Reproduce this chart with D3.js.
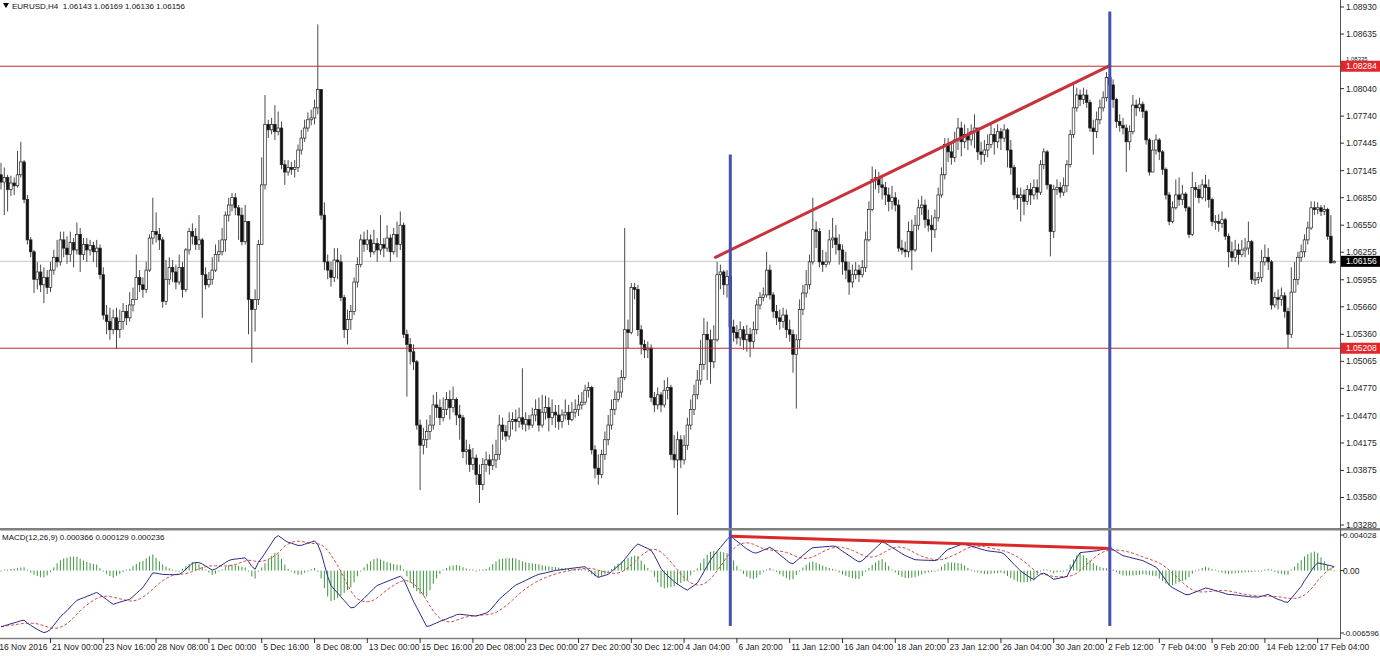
<!DOCTYPE html>
<html><head><meta charset="utf-8">
<script src="https://cdn.jsdelivr.net/npm/d3@7"></script>
<style>html,body{margin:0;padding:0;background:#fff;overflow:hidden}svg{display:block;font-family:"Liberation Sans",Arial,sans-serif}</style>
</head><body><svg id="c" width="1380" height="656"></svg>
<script>
const firstOpen = 1.0710;
const closes = [
1.0702,1.0707,1.0694,1.0701,1.0698,1.0710,1.0724,1.0683,1.0639,1.0626,
1.0596,1.0604,1.0590,1.0598,1.0587,1.0606,1.0620,1.0615,1.0639,1.0630,
1.0623,1.0636,1.0628,1.0645,1.0623,1.0634,1.0628,1.0633,1.0626,1.0630,
1.0601,1.0557,1.0550,1.0541,1.0554,1.0541,1.0550,1.0561,1.0554,1.0568,
1.0574,1.0598,1.0590,1.0585,1.0606,1.0641,1.0648,1.0645,1.0639,1.0572,
1.0596,1.0609,1.0604,1.0593,1.0609,1.0585,1.0628,1.0648,1.0643,1.0634,
1.0639,1.0601,1.0590,1.0596,1.0606,1.0623,1.0626,1.0639,1.0666,1.0677,
1.0685,1.0674,1.0666,1.0637,1.0659,1.0574,1.0563,1.0574,1.0634,1.0699,
1.0765,1.0759,1.0765,1.0757,1.0761,1.0721,1.0713,1.0718,1.0716,1.0718,
1.0737,1.0750,1.0761,1.0770,1.0772,1.0783,1.0803,1.0666,1.0615,1.0606,
1.0598,1.0617,1.0615,1.0576,1.0541,1.0552,1.0561,1.0593,1.0612,1.0639,
1.0634,1.0639,1.0626,1.0635,1.0628,1.0634,1.0630,1.0641,1.0626,1.0645,
1.0634,1.0655,1.0536,1.0525,1.0517,1.0506,1.0437,1.0415,1.0421,1.0430,
1.0437,1.0459,1.0456,1.0445,1.0454,1.0465,1.0456,1.0465,1.0448,1.0445,
1.0408,1.0410,1.0394,1.0401,1.0383,1.0372,1.0394,1.0399,1.0393,1.0399,
1.0405,1.0437,1.0430,1.0425,1.0441,1.0443,1.0441,1.0445,1.0438,1.0443,
1.0437,1.0448,1.0454,1.0437,1.0451,1.0456,1.0445,1.0451,1.0448,1.0441,
1.0448,1.0451,1.0443,1.0451,1.0454,1.0459,1.0462,1.0475,1.0478,1.0410,
1.0390,1.0383,1.0405,1.0421,1.0437,1.0454,1.0465,1.0473,1.0489,1.0541,
1.0538,1.0587,1.0585,1.0541,1.0525,1.0519,1.0521,1.0467,1.0459,1.0470,
1.0459,1.0475,1.0478,1.0405,1.0399,1.0421,1.0399,1.0415,1.0437,1.0454,
1.0470,1.0486,1.0503,1.0536,1.0530,1.0506,1.0530,1.0601,1.0604,1.0590,
1.0599,1.0544,1.0538,1.0532,1.0541,1.0530,1.0536,1.0528,1.0541,1.0568,
1.0576,1.0579,1.0606,1.0579,1.0561,1.0554,1.0550,1.0557,1.0541,1.0536,
1.0514,1.0530,1.0563,1.0581,1.0590,1.0615,1.0650,1.0648,1.0615,1.0612,
1.0615,1.0639,1.0641,1.0634,1.0628,1.0615,1.0606,1.0593,1.0601,1.0606,
1.0601,1.0609,1.0639,1.0672,1.0705,1.0707,1.0699,1.0696,1.0688,1.0681,
1.0685,1.0677,1.0630,1.0628,1.0626,1.0648,1.0628,1.0655,1.0674,1.0677,
1.0661,1.0655,1.0650,1.0663,1.0688,1.0710,1.0743,1.0735,1.0729,1.0748,
1.0761,1.0746,1.0754,1.0748,1.0757,1.0761,1.0735,1.0732,1.0737,1.0743,
1.0754,1.0746,1.0757,1.0750,1.0759,1.0737,1.0718,1.0688,1.0685,1.0688,
1.0681,1.0694,1.0688,1.0696,1.0691,1.0721,1.0735,1.0699,1.0648,1.0694,
1.0696,1.0691,1.0698,1.0721,1.0754,1.0783,1.0797,1.0792,1.0797,1.0789,
1.0761,1.0757,1.0770,1.0783,1.0794,1.0816,1.0808,1.0792,1.0768,1.0764,
1.0761,1.0746,1.0757,1.0786,1.0783,1.0787,1.0779,1.0748,1.0713,1.0737,
1.0748,1.0735,1.0716,1.0688,1.0659,1.0674,1.0688,1.0683,1.0689,1.0674,
1.0645,1.0696,1.0694,1.0685,1.0699,1.0696,1.0683,1.0659,1.0659,1.0657,
1.0661,1.0643,1.0626,1.0620,1.0628,1.0623,1.0628,1.0630,1.0637,1.0596,
1.0596,1.0598,1.0615,1.0620,1.0615,1.0568,1.0576,1.0574,1.0578,1.0561,
1.0536,1.0582,1.0596,1.0620,1.0626,1.0639,1.0652,1.0674,1.0672,1.0674,
1.0670,1.0672,1.0643,1.0614,1.06156];
const highs = [
1.0723,1.0718,1.0710,1.0709,1.0707,1.0736,1.0746,1.0726,1.0688,1.0642,
1.0628,1.0615,1.0612,1.0609,1.0606,1.0615,1.0628,1.0639,1.0648,1.0648,
1.0643,1.0648,1.0641,1.0658,1.0652,1.0641,1.0641,1.0639,1.0637,1.0639,
1.0634,1.0609,1.0568,1.0565,1.0563,1.0565,1.0563,1.0570,1.0568,1.0582,
1.0587,1.0623,1.0606,1.0598,1.0615,1.0645,1.0685,1.0669,1.0652,1.0642,
1.0617,1.0620,1.0617,1.0612,1.0623,1.0615,1.0630,1.0652,1.0657,1.0652,
1.0666,1.0641,1.0609,1.0604,1.0620,1.0634,1.0639,1.0652,1.0670,1.0685,
1.0690,1.0690,1.0677,1.0674,1.0677,1.0659,1.0574,1.0585,1.0639,1.0729,
1.0797,1.0770,1.0772,1.0786,1.0779,1.0768,1.0726,1.0726,1.0724,1.0726,
1.0743,1.0759,1.0770,1.0778,1.0781,1.0792,1.0874,1.0803,1.0680,1.0623,
1.0615,1.0630,1.0630,1.0623,1.0579,1.0563,1.0568,1.0598,1.0620,1.0645,
1.0648,1.0650,1.0645,1.0650,1.0641,1.0666,1.0641,1.0655,1.0645,1.0652,
1.0659,1.0670,1.0658,1.0541,1.0532,1.0525,1.0508,1.0443,1.0434,1.0443,
1.0448,1.0470,1.0473,1.0465,1.0467,1.0473,1.0475,1.0479,1.0467,1.0459,
1.0448,1.0421,1.0416,1.0412,1.0405,1.0394,1.0401,1.0408,1.0405,1.0416,
1.0421,1.0448,1.0445,1.0437,1.0451,1.0451,1.0454,1.0456,1.0499,1.0451,
1.0448,1.0456,1.0465,1.0467,1.0470,1.0469,1.0467,1.0465,1.0459,1.0459,
1.0454,1.0465,1.0459,1.0462,1.0465,1.0470,1.0473,1.0481,1.0484,1.0480,
1.0415,1.0405,1.0410,1.0430,1.0448,1.0465,1.0475,1.0489,1.0497,1.0652,
1.0552,1.0592,1.0592,1.0590,1.0546,1.0530,1.0528,1.0525,1.0473,1.0478,
1.0473,1.0486,1.0489,1.0481,1.0426,1.0430,1.0426,1.0426,1.0445,1.0465,
1.0481,1.0497,1.0530,1.0554,1.0550,1.0541,1.0546,1.0615,1.0612,1.0606,
1.0606,1.0623,1.0552,1.0546,1.0550,1.0545,1.0546,1.0543,1.0550,1.0574,
1.0582,1.0587,1.0626,1.0612,1.0582,1.0568,1.0563,1.0565,1.0563,1.0552,
1.0541,1.0536,1.0574,1.0590,1.0606,1.0623,1.0685,1.0659,1.0652,1.0628,
1.0626,1.0650,1.0663,1.0655,1.0645,1.0634,1.0626,1.0615,1.0612,1.0615,
1.0612,1.0617,1.0648,1.0681,1.0719,1.0716,1.0713,1.0707,1.0702,1.0696,
1.0698,1.0691,1.0683,1.0639,1.0637,1.0659,1.0661,1.0666,1.0683,1.0687,
1.0683,1.0672,1.0666,1.0672,1.0696,1.0718,1.0750,1.0750,1.0745,1.0757,
1.0772,1.0768,1.0765,1.0761,1.0765,1.0776,1.0761,1.0746,1.0748,1.0754,
1.0765,1.0761,1.0765,1.0761,1.0765,1.0761,1.0748,1.0721,1.0696,1.0696,
1.0694,1.0699,1.0701,1.0705,1.0705,1.0726,1.0739,1.0737,1.0699,1.0699,
1.0705,1.0702,1.0707,1.0726,1.0759,1.0810,1.0805,1.0803,1.0805,1.0803,
1.0792,1.0770,1.0779,1.0792,1.0801,1.0822,1.0828,1.0814,1.0794,1.0776,
1.0772,1.0765,1.0764,1.0797,1.0792,1.0794,1.0790,1.0781,1.0750,1.0748,
1.0754,1.0750,1.0737,1.0718,1.0691,1.0681,1.0705,1.0707,1.0699,1.0691,
1.0676,1.0713,1.0702,1.0699,1.0705,1.0710,1.0705,1.0685,1.0666,1.0667,
1.0670,1.0663,1.0646,1.0637,1.0639,1.0635,1.0639,1.0641,1.0659,1.0639,
1.0604,1.0604,1.0628,1.0634,1.0630,1.0617,1.0582,1.0585,1.0587,1.0582,
1.0565,1.0609,1.0615,1.0626,1.0634,1.0645,1.0659,1.0681,1.0681,1.0680,
1.0677,1.0677,1.0674,1.0666,1.06169];
const lows = [
1.0694,1.0666,1.0670,1.0687,1.0688,1.0696,1.0707,1.0679,1.0634,1.0620,
1.0581,1.0585,1.0582,1.0570,1.0580,1.0582,1.0601,1.0609,1.0611,1.0620,
1.0613,1.0615,1.0609,1.0623,1.0604,1.0617,1.0615,1.0622,1.0615,1.0609,
1.0596,1.0552,1.0536,1.0530,1.0536,1.0520,1.0532,1.0541,1.0546,1.0550,
1.0561,1.0574,1.0582,1.0576,1.0581,1.0604,1.0634,1.0636,1.0628,1.0565,
1.0568,1.0590,1.0593,1.0585,1.0590,1.0576,1.0582,1.0623,1.0634,1.0628,
1.0628,1.0554,1.0585,1.0587,1.0590,1.0604,1.0615,1.0622,1.0626,1.0659,
1.0670,1.0666,1.0639,1.0633,1.0634,1.0536,1.0505,1.0539,1.0568,1.0634,
1.0694,1.0750,1.0754,1.0748,1.0753,1.0716,1.0699,1.0709,1.0710,1.0707,
1.0713,1.0732,1.0746,1.0757,1.0764,1.0765,1.0776,1.0661,1.0606,1.0596,
1.0588,1.0593,1.0596,1.0572,1.0532,1.0525,1.0541,1.0557,1.0587,1.0609,
1.0626,1.0628,1.0620,1.0623,1.0615,1.0623,1.0620,1.0626,1.0615,1.0623,
1.0620,1.0628,1.0532,1.0468,1.0503,1.0497,1.0432,1.0366,1.0405,1.0412,
1.0421,1.0432,1.0445,1.0437,1.0441,1.0448,1.0443,1.0451,1.0437,1.0421,
1.0401,1.0394,1.0386,1.0388,1.0372,1.0352,1.0366,1.0386,1.0383,1.0388,
1.0390,1.0399,1.0421,1.0419,1.0421,1.0432,1.0430,1.0434,1.0432,1.0430,
1.0432,1.0434,1.0441,1.0430,1.0434,1.0443,1.0430,1.0437,1.0434,1.0432,
1.0434,1.0443,1.0437,1.0441,1.0445,1.0447,1.0454,1.0459,1.0467,1.0405,
1.0379,1.0372,1.0379,1.0399,1.0415,1.0432,1.0448,1.0462,1.0467,1.0486,
1.0521,1.0536,1.0574,1.0534,1.0514,1.0510,1.0510,1.0462,1.0451,1.0454,
1.0451,1.0456,1.0465,1.0399,1.0390,1.0339,1.0390,1.0394,1.0410,1.0432,
1.0448,1.0465,1.0481,1.0497,1.0486,1.0482,1.0499,1.0528,1.0585,1.0579,
1.0576,1.0541,1.0528,1.0525,1.0523,1.0519,1.0517,1.0511,1.0521,1.0536,
1.0563,1.0572,1.0576,1.0574,1.0554,1.0546,1.0541,1.0543,1.0532,1.0528,
1.0494,1.0455,1.0521,1.0557,1.0576,1.0585,1.0612,1.0630,1.0609,1.0604,
1.0609,1.0612,1.0630,1.0623,1.0612,1.0601,1.0596,1.0579,1.0587,1.0596,
1.0593,1.0598,1.0604,1.0637,1.0670,1.0694,1.0690,1.0683,1.0677,1.0670,
1.0672,1.0670,1.0626,1.0623,1.0620,1.0620,1.0606,1.0626,1.0650,1.0666,
1.0652,1.0648,1.0626,1.0641,1.0659,1.0685,1.0705,1.0724,1.0721,1.0724,
1.0737,1.0730,1.0739,1.0737,1.0742,1.0739,1.0726,1.0721,1.0724,1.0729,
1.0739,1.0732,1.0739,1.0737,1.0746,1.0718,1.0710,1.0683,1.0672,1.0659,
1.0666,1.0677,1.0677,1.0683,1.0683,1.0688,1.0716,1.0694,1.0621,1.0641,
1.0688,1.0685,1.0687,1.0691,1.0718,1.0750,1.0779,1.0785,1.0787,1.0783,
1.0757,1.0732,1.0750,1.0765,1.0779,1.0790,1.0792,1.0783,1.0761,1.0757,
1.0754,1.0713,1.0737,1.0754,1.0774,1.0779,1.0772,1.0743,1.0709,1.0713,
1.0732,1.0726,1.0710,1.0683,1.0655,1.0657,1.0672,1.0676,1.0677,1.0670,
1.0641,1.0643,1.0685,1.0679,1.0683,1.0681,1.0674,1.0654,1.0650,1.0648,
1.0652,1.0639,1.0609,1.0615,1.0615,1.0612,1.0620,1.0620,1.0623,1.0591,
1.0590,1.0591,1.0593,1.0611,1.0606,1.0563,1.0565,1.0563,1.0567,1.0554,
1.0521,1.0532,1.0582,1.0590,1.0615,1.0620,1.0634,1.0650,1.0666,1.0667,
1.0665,1.0666,1.0639,1.0613,1.06136];
const macdMain = [
-0.00558,-0.00548,-0.00538,-0.00528,-0.00519,-0.00509,-0.00498,-0.00492,-0.00522,-0.00543,
-0.00565,-0.00584,-0.00602,-0.00616,-0.00607,-0.00584,-0.00542,-0.00500,-0.00460,-0.00427,
-0.00398,-0.00361,-0.00329,-0.00296,-0.00282,-0.00270,-0.00257,-0.00244,-0.00230,-0.00217,
-0.00239,-0.00263,-0.00287,-0.00312,-0.00335,-0.00324,-0.00314,-0.00304,-0.00294,-0.00286,
-0.00258,-0.00228,-0.00198,-0.00168,-0.00120,-0.00071,-0.00023,-0.00026,-0.00032,-0.00038,
-0.00039,-0.00040,-0.00041,-0.00040,-0.00038,-0.00017,0.00014,0.00043,0.00073,0.00079,
0.00079,0.00065,0.00045,0.00025,0.00005,0.00016,0.00036,0.00057,0.00079,0.00099,
0.00110,0.00114,0.00118,0.00122,0.00126,0.00092,0.00041,0.00013,0.00083,0.00124,
0.00173,0.00223,0.00273,0.00323,0.00347,0.00324,0.00300,0.00281,0.00272,0.00260,
0.00250,0.00250,0.00261,0.00272,0.00282,0.00295,0.00256,0.00177,0.00059,-0.00059,
-0.00148,-0.00187,-0.00223,-0.00261,-0.00297,-0.00335,-0.00370,-0.00366,-0.00337,-0.00306,
-0.00276,-0.00243,-0.00211,-0.00178,-0.00148,-0.00134,-0.00121,-0.00108,-0.00094,-0.00082,
-0.00069,-0.00056,-0.00085,-0.00158,-0.00232,-0.00305,-0.00367,-0.00430,-0.00493,-0.00555,
-0.00548,-0.00533,-0.00520,-0.00505,-0.00492,-0.00480,-0.00466,-0.00456,-0.00438,-0.00434,
-0.00437,-0.00441,-0.00445,-0.00449,-0.00452,-0.00442,-0.00432,-0.00422,-0.00402,-0.00363,
-0.00324,-0.00284,-0.00256,-0.00227,-0.00199,-0.00169,-0.00144,-0.00128,-0.00113,-0.00097,
-0.00082,-0.00065,-0.00050,-0.00037,-0.00030,-0.00023,-0.00015,-0.00007,0.00001,0.00005,
0.00009,0.00014,0.00018,0.00023,0.00027,0.00031,0.00035,0.00038,0.00011,-0.00017,
-0.00044,-0.00068,-0.00058,-0.00048,-0.00037,-0.00010,0.00019,0.00046,0.00074,0.00112,
0.00154,0.00195,0.00236,0.00264,0.00249,0.00234,0.00219,0.00201,0.00150,0.00085,
0.00020,-0.00021,-0.00050,-0.00080,-0.00110,-0.00135,-0.00156,-0.00178,-0.00194,-0.00170,
-0.00148,-0.00123,-0.00069,-0.00011,0.00047,0.00105,0.00150,0.00189,0.00229,0.00269,
0.00308,0.00342,0.00318,0.00292,0.00267,0.00240,0.00215,0.00196,0.00177,0.00175,
0.00188,0.00203,0.00216,0.00230,0.00211,0.00184,0.00157,0.00131,0.00104,0.00078,
0.00067,0.00095,0.00123,0.00151,0.00178,0.00206,0.00227,0.00229,0.00232,0.00235,
0.00238,0.00240,0.00243,0.00240,0.00215,0.00192,0.00170,0.00148,0.00126,0.00104,
0.00086,0.00098,0.00129,0.00159,0.00191,0.00222,0.00253,0.00284,0.00271,0.00251,
0.00230,0.00210,0.00189,0.00168,0.00149,0.00135,0.00121,0.00108,0.00106,0.00104,
0.00103,0.00102,0.00100,0.00099,0.00111,0.00148,0.00183,0.00211,0.00222,0.00234,
0.00247,0.00260,0.00261,0.00251,0.00242,0.00232,0.00223,0.00213,0.00204,0.00196,
0.00192,0.00188,0.00184,0.00180,0.00164,0.00130,0.00095,0.00061,0.00028,-0.00005,
-0.00028,-0.00050,-0.00072,-0.00088,-0.00060,-0.00037,-0.00026,-0.00040,-0.00065,-0.00087,
-0.00080,-0.00073,-0.00066,-0.00059,0.00005,0.00065,0.00125,0.00178,0.00182,0.00185,
0.00189,0.00193,0.00197,0.00204,0.00211,0.00218,0.00225,0.00208,0.00188,0.00167,
0.00148,0.00140,0.00132,0.00123,0.00115,0.00107,0.00099,0.00083,0.00067,0.00050,
0.00034,-0.00004,-0.00050,-0.00097,-0.00144,-0.00170,-0.00187,-0.00205,-0.00221,-0.00239,
-0.00238,-0.00225,-0.00213,-0.00200,-0.00187,-0.00173,-0.00179,-0.00189,-0.00199,-0.00209,
-0.00218,-0.00228,-0.00238,-0.00238,-0.00242,-0.00246,-0.00250,-0.00254,-0.00258,-0.00262,
-0.00262,-0.00264,-0.00255,-0.00246,-0.00237,-0.00254,-0.00271,-0.00287,-0.00296,-0.00311,
-0.00315,-0.00276,-0.00236,-0.00197,-0.00157,-0.00101,-0.00053,-0.00004,0.00044,0.00076,
0.00069,0.00062,0.00055,0.00048,0.000366];
const timeLabels = ["16 Nov 2016","21 Nov 00:00","23 Nov 16:00","28 Nov 08:00","1 Dec 00:00","5 Dec 16:00","8 Dec 08:00","13 Dec 00:00","15 Dec 16:00","20 Dec 08:00","23 Dec 00:00","27 Dec 20:00","30 Dec 12:00","4 Jan 04:00","6 Jan 20:00","11 Jan 12:00","16 Jan 04:00","18 Jan 20:00","23 Jan 12:00","26 Jan 04:00","30 Jan 20:00","2 Feb 12:00","7 Feb 04:00","9 Feb 20:00","14 Feb 12:00","17 Feb 04:00"];
const timeLabelStep = 16, timeLabelFirst = -1;
const priceTicks = ["1.08930","1.08635","1.08335","1.08040","1.07740","1.07445","1.07145","1.06850","1.06550","1.06255","1.05955","1.05660","1.05360","1.05065","1.04770","1.04470","1.04175","1.03875","1.03580","1.03280"];
const macdTicks = ["0.004028","0.00","-0.006596"];
const levels = [1.08284, 1.05208];
const bidPrice = 1.06156;
const priceTrend = [[216.5, 1.0620], [336, 1.0829]];
const macdTrend = [[221, 0.00341], [336.5, 0.00219]];
const vLines = [{bar: 221, top: 1.0732}, {bar: 336, top: 1.0888}];
const vLineBottom = -0.0055;
const headerText = "EURUSD,H4  1.06143 1.06169 1.06136 1.06156";
const macdText = "MACD(12,26,9) 0.000366 0.000129 0.000236";

const N = closes.length;
const opens = closes.map((c, i) => i === 0 ? firstOpen : closes[i - 1]);
const signal = macdMain.map((v, i) => d3.mean(macdMain.slice(Math.max(0, i - 8), i + 1)));
const hist = macdMain.map((v, i) => v - signal[i]);

const x = d3.scaleLinear().domain([0, N - 1]).range([1, 1334.2]);
const y = d3.scaleLinear().domain([1.0328, 1.0893]).range([525, 7]);
const ym = d3.scaleLinear().domain([-0.006596, 0.004028]).range([637, 530]);

const svg = d3.select('#c');
svg.append('rect').attr('width', 1380).attr('height', 656).attr('fill', '#fff');
const defs = svg.append('defs');
defs.append('clipPath').attr('id', 'cm').append('rect').attr('x', 0).attr('y', 0).attr('width', 1340).attr('height', 528);
defs.append('clipPath').attr('id', 'cd').append('rect').attr('x', 0).attr('y', 530).attr('width', 1340).attr('height', 108);
defs.append('clipPath').attr('id', 'ct').append('rect').attr('x', 0).attr('y', 0).attr('width', 1380).attr('height', 656);

const gm = svg.append('g').attr('clip-path', 'url(#cm)');
gm.append('line').attr('x1', 0).attr('x2', 1340).attr('y1', y(bidPrice)).attr('y2', y(bidPrice)).attr('stroke', '#c8c8c8').attr('stroke-width', 1);
const idx = d3.range(N);
gm.selectAll('line.w').data(idx).join('line').attr('class', 'w')
  .attr('x1', i => x(i)).attr('x2', i => x(i))
  .attr('y1', i => y(Math.max(highs[i], opens[i], closes[i])))
  .attr('y2', i => y(Math.min(lows[i], opens[i], closes[i])))
  .attr('stroke', '#4a4a4a').attr('stroke-width', 1);
gm.selectAll('rect.b').data(idx).join('rect').attr('class', 'b')
  .attr('x', i => x(i) - 1.3).attr('width', 2.6)
  .attr('y', i => y(Math.max(opens[i], closes[i])))
  .attr('height', i => Math.max(1, Math.abs(y(opens[i]) - y(closes[i]))))
  .attr('fill', i => closes[i] >= opens[i] ? '#fff' : '#111')
  .attr('stroke', '#222').attr('stroke-width', 0.7);
gm.selectAll('line.lv').data(levels).join('line').attr('class', 'lv')
  .attr('x1', 0).attr('x2', 1340).attr('y1', d => y(d)).attr('y2', d => y(d))
  .attr('stroke', '#c0282d').attr('stroke-width', 1);
gm.append('line').attr('x1', x(priceTrend[0][0])).attr('y1', y(priceTrend[0][1]))
  .attr('x2', x(priceTrend[1][0])).attr('y2', y(priceTrend[1][1]))
  .attr('stroke', '#c8323a').attr('stroke-width', 3).attr('stroke-linecap', 'round');

const gd = svg.append('g').attr('clip-path', 'url(#cd)');
gd.selectAll('line.h').data(idx).join('line').attr('class', 'h')
  .attr('x1', i => x(i)).attr('x2', i => x(i))
  .attr('y1', ym(0))
  .attr('y2', i => { const d = ym(hist[i]) - ym(0); return ym(0) + (Math.abs(d) < 1 ? (d < 0 ? -1 : 1) : d); })
  .attr('stroke', '#3c963c').attr('stroke-width', 1);
gd.append('path').datum(idx).attr('fill', 'none').attr('stroke', '#d04848').attr('stroke-width', 1).attr('stroke-dasharray', '3,2')
  .attr('d', d3.line().x(i => x(i)).y(i => ym(signal[i])));
gd.append('path').datum(idx).attr('fill', 'none').attr('stroke', '#2a2a8a').attr('stroke-width', 1)
  .attr('d', d3.line().x(i => x(i)).y(i => ym(macdMain[i])));
gd.append('line').attr('x1', x(macdTrend[0][0])).attr('y1', ym(macdTrend[0][1]))
  .attr('x2', x(macdTrend[1][0])).attr('y2', ym(macdTrend[1][1]))
  .attr('stroke', '#dc2828').attr('stroke-width', 3);

svg.selectAll('line.v').data(vLines).join('line').attr('class', 'v')
  .attr('x1', d => x(d.bar)).attr('x2', d => x(d.bar))
  .attr('y1', d => y(d.top)).attr('y2', ym(vLineBottom))
  .attr('stroke', '#4650b0').attr('stroke-width', 3);

svg.append('rect').attr('x', 0).attr('y', 528).attr('width', 1380).attr('height', 2.5).attr('fill', '#808080');
svg.append('line').attr('x1', 0).attr('x2', 1341).attr('y1', 638.5).attr('y2', 638.5).attr('stroke', '#808080').attr('stroke-width', 1.5);
svg.append('line').attr('x1', 1340.5).attr('x2', 1340.5).attr('y1', 0).attr('y2', 639).attr('stroke', '#555').attr('stroke-width', 1);

const ax = svg.append('g').attr('font-size', '8.5px').attr('fill', '#222');
const tagged = levels.concat([bidPrice]);
priceTicks.forEach(t => {
  const yy = y(+t);
  ax.append('line').attr('x1', 1340).attr('x2', 1344).attr('y1', yy).attr('y2', yy).attr('stroke', '#333');
  // a tick label that sits under a price tag is only shown where it peeks out above the tag
  const hidden = tagged.some(v => Math.abs(y(v) - yy) < 6);
  const txt = ax.append('text').attr('x', 1346).attr('y', yy).attr('dy', '0.35em').text(t);
  if (hidden) txt.attr('font-size', '6px').attr('dy', '-0.1em');
});
function tag(v, fill) {
  const yy = y(v);
  ax.append('rect').attr('x', 1341).attr('y', yy - 5.5).attr('width', 39).attr('height', 11).attr('fill', fill);
  ax.append('text').attr('x', 1346).attr('y', yy).attr('dy', '0.35em').attr('fill', '#fff').text(v.toFixed(5));
}
levels.forEach(l => tag(l, '#e0282c'));
tag(bidPrice, '#000');
macdTicks.forEach(t => {
  const yy = ym(+t);
  const ty = Math.max(535, Math.min(633, yy));
  ax.append('line').attr('x1', 1340).attr('x2', 1344).attr('y1', ty).attr('y2', ty).attr('stroke', '#333');
  ax.append('text').attr('x', 1343).attr('y', ty).attr('dy', '0.35em').attr('font-size', t.length > 7 ? '8px' : '8.5px').text(t);
});

const tx = svg.append('g').attr('font-size', '8.5px').attr('fill', '#222');
timeLabels.forEach((t, k) => {
  const xx = x(timeLabelFirst + k * timeLabelStep);
  tx.append('line').attr('x1', xx).attr('x2', xx).attr('y1', 638).attr('y2', 643).attr('stroke', '#333');
  tx.append('text').attr('x', xx + 1.5).attr('y', 650).text(t);
});

svg.append('path').attr('d', 'M3,3 L9,3 L6,8 Z').attr('fill', '#000');
svg.append('text').attr('x', 12).attr('y', 8.5).attr('font-size', '8px').attr('fill', '#111').style('white-space', 'pre').text(headerText);
svg.append('text').attr('x', 2).attr('y', 540).attr('font-size', '8px').attr('fill', '#111').style('white-space', 'pre').text(macdText);
</script></body></html>
